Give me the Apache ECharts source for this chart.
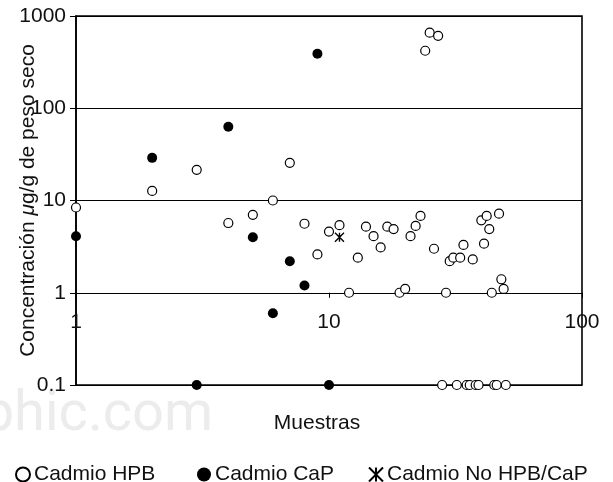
<!DOCTYPE html>
<html>
<head>
<meta charset="utf-8">
<script src="https://cdn.jsdelivr.net/npm/echarts@6/dist/echarts.min.js"></script>
<style>
  html, body { margin: 0; padding: 0; background: #fff; }
  #chart { width: 613px; height: 482px; }
</style>
</head>
<body>
<div id="chart"></div>
<script>
// sample number / concentration pairs
const hpbPoints = [
  [1, 8.4], [2, 12.7], [3, 21.5], [4, 5.7], [5, 7], [6, 10], [7, 25.6], [8, 5.6], [9, 2.6], [10, 4.6],
  [11, 5.4], [12, 1], [13, 2.4], [14, 5.2], [15, 4.1], [16, 3.1], [17, 5.2], [18, 4.9], [19, 1], [20, 1.1],
  [21, 4.1], [22, 5.3], [23, 6.8], [24, 420], [25, 660], [26, 3.0], [27, 610], [28, 0.1], [29, 1], [30, 2.2],
  [31, 2.4], [32, 0.1], [33, 2.4], [34, 3.3], [35, 0.1], [36, 0.1], [37, 2.3], [38, 0.1], [39, 0.1], [40, 6.1],
  [41, 3.4], [42, 6.8], [43, 4.9], [44, 1], [45, 0.1], [46, 0.1], [47, 7.2], [48, 1.4], [49, 1.1], [50, 0.1]
];
const capPoints = [
  [1, 4.1], [2, 29], [3, 0.1], [4, 63], [5, 4], [6, 0.6], [7, 2.2], [8, 1.2], [9, 390], [10, 0.1]
];
const otherPoints = [[11, 4]];

const seriesNames = ['Cadmio HPB', 'Cadmio CaP', 'Cadmio No HPB/CaP'];
const xLimits = [1, 100];
const yLimits = [0.1, 1000];

const font = '"Liberation Sans", Arial, sans-serif';
const starPath = 'path://M0,0L10,10M10,0L0,10M5,0L5,10';

const chart = echarts.init(document.getElementById('chart'));

function legendAt(left, name) {
  return {
    left: left,
    top: 459,
    data: [name],
    itemWidth: 14,
    itemHeight: 14,
    itemGap: 0,
    textStyle: { fontFamily: font, fontSize: 21, color: '#111', padding: [0, 0, 0, -1] }
  };
}

const plainNumber = v => String(v);

chart.setOption({
  animation: false,
  backgroundColor: '#fff',
  textStyle: { fontFamily: font },
  graphic: [{
    type: 'text',
    z: 0,
    right: 400,
    top: 388,
    style: {
      text: 'aphic.com',
      fill: '#ececec',
      fontFamily: 'Roboto, "Liberation Sans", sans-serif',
      fontSize: 56
    }
  }],
  legend: [
    legendAt(10, seriesNames[0]),
    legendAt(192, seriesNames[1]),
    legendAt(363, seriesNames[2])
  ],
  grid: {
    left: 76,
    right: 31,
    top: 16,
    bottom: 97,
    outerBoundsMode: 'none',
    containLabel: false,
    show: true,
    borderColor: '#000',
    borderWidth: 1.6
  },
  xAxis: {
    type: 'log',
    logBase: 10,
    min: xLimits[0],
    max: xLimits[1],
    offset: -92.25,
    name: 'Muestras',
    nameLocation: 'middle',
    nameGap: 120,
    nameMoveOverlap: false,
    nameTextStyle: { fontSize: 21, color: '#111', padding: [0, 24, 0, 0] },
    axisLine: { show: true, lineStyle: { color: '#000', width: 1 } },
    axisTick: { show: true, length: 5, lineStyle: { color: '#000' } },
    axisLabel: { fontSize: 21, color: '#111', margin: 19, formatter: plainNumber },
    splitLine: { show: false }
  },
  yAxis: {
    type: 'log',
    logBase: 10,
    min: yLimits[0],
    max: yLimits[1],
    name: 'Concentración {i|μ}g/g de peso seco',
    nameLocation: 'middle',
    nameGap: 37,
    nameRotate: 90,
    nameMoveOverlap: false,
    nameTextStyle: {
      fontSize: 21,
      color: '#111',
      rich: { i: { fontSize: 21, fontStyle: 'italic', color: '#111', fontFamily: font } }
    },
    axisLine: { show: true, lineStyle: { color: '#000', width: 1.6 } },
    axisTick: { show: true, length: 6, lineStyle: { color: '#000' } },
    axisLabel: { fontSize: 21, color: '#111', margin: 10, formatter: plainNumber },
    splitLine: { show: true, lineStyle: { color: '#000', width: 1 } }
  },
  series: [
    {
      name: seriesNames[0],
      type: 'scatter',
      clip: false,
      symbol: 'circle',
      symbolSize: 9,
      itemStyle: { color: '#fff', borderColor: '#000', borderWidth: 1.2, opacity: 1 },
      data: hpbPoints
    },
    {
      name: seriesNames[1],
      type: 'scatter',
      clip: false,
      symbol: 'circle',
      symbolSize: 10,
      itemStyle: { color: '#000', opacity: 1 },
      data: capPoints
    },
    {
      name: seriesNames[2],
      type: 'scatter',
      clip: false,
      symbol: starPath,
      symbolSize: 9,
      itemStyle: { color: 'transparent', borderColor: '#000', borderWidth: 1.4, opacity: 1 },
      data: otherPoints
    }
  ]
});
</script>
</body>
</html>
